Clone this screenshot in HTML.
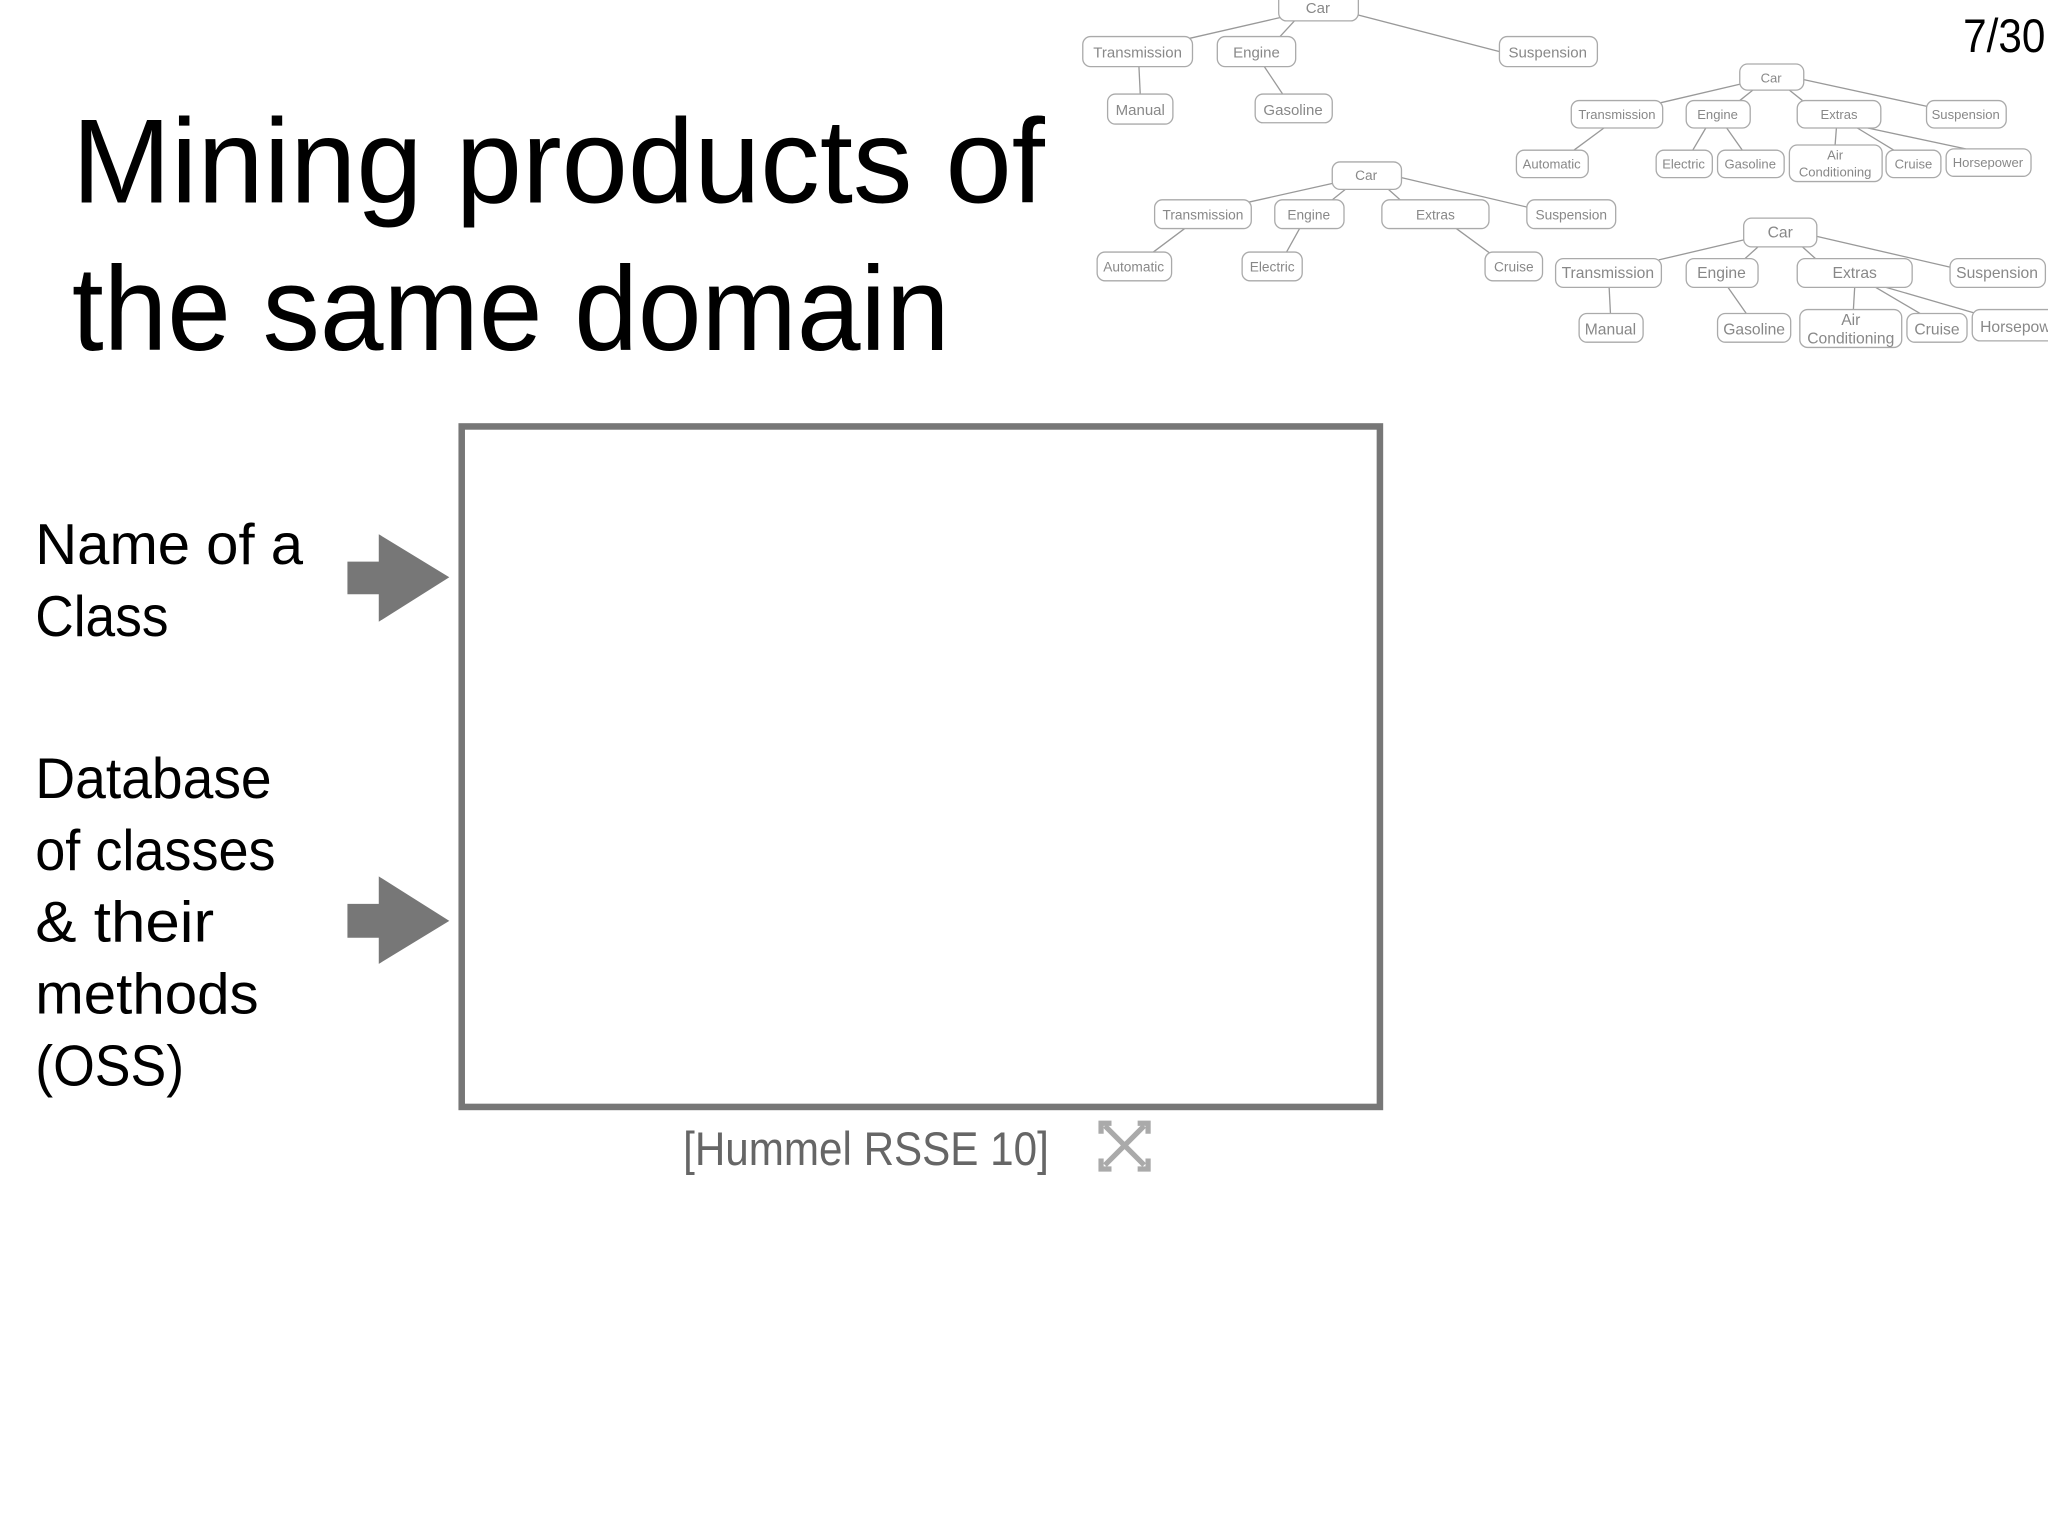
<!DOCTYPE html>
<html><head><meta charset="utf-8"><style>
html,body{margin:0;padding:0;background:#fff;width:2048px;height:1536px;overflow:hidden}
svg{display:block}
.t{font-family:"Liberation Sans",sans-serif;font-size:11.5px;fill:#888;text-anchor:middle}
.n{fill:#fff;stroke:#aaa;stroke-width:1}
.e{stroke:#999;stroke-width:1}
.b{font-family:"Liberation Sans",sans-serif;fill:#000}
</style></head><body>
<svg width="2048" height="1536" viewBox="0 0 1568 1176" xmlns="http://www.w3.org/2000/svg">
<rect width="1568" height="1176" fill="#fff"/>
<!-- Tree 1 -->
<g>
<line class="e" x1="982" y1="13" x2="908" y2="30"/>
<line class="e" x1="992" y1="15" x2="980" y2="28"/>
<line class="e" x1="1038" y1="11" x2="1150" y2="40"/>
<line class="e" x1="872" y1="51" x2="873" y2="72"/>
<line class="e" x1="968" y1="51" x2="982" y2="72"/>
<rect class="n" x="979" y="-6" width="61" height="22" rx="6"/><text class="t" x="1009" y="10">Car</text>
<rect class="n" x="829" y="28" width="84" height="23" rx="6"/><text class="t" x="871" y="44">Transmission</text>
<rect class="n" x="932" y="28" width="60" height="23" rx="6"/><text class="t" x="962" y="44">Engine</text>
<rect class="n" x="1148" y="28" width="75" height="23" rx="6"/><text class="t" x="1185" y="44">Suspension</text>
<rect class="n" x="848" y="72" width="50" height="23" rx="6"/><text class="t" x="873" y="88">Manual</text>
<rect class="n" x="961" y="72" width="59" height="22" rx="6"/><text class="t" x="990" y="88">Gasoline</text>
</g>
<!-- Tree 2 -->
<g style="font-size:10px">
<line class="e" x1="1334" y1="64" x2="1270" y2="79"/>
<line class="e" x1="1342" y1="69" x2="1332" y2="77"/>
<line class="e" x1="1370" y1="69" x2="1380" y2="77"/>
<line class="e" x1="1381" y1="61" x2="1478" y2="82"/>
<line class="e" x1="1228" y1="98" x2="1205" y2="115"/>
<line class="e" x1="1306" y1="98" x2="1296" y2="115"/>
<line class="e" x1="1322" y1="98" x2="1334" y2="115"/>
<line class="e" x1="1406" y1="98" x2="1405" y2="111"/>
<line class="e" x1="1422" y1="98" x2="1450" y2="115"/>
<line class="e" x1="1430" y1="98" x2="1505" y2="114"/>
<rect class="n" x="1332" y="49" width="49" height="20" rx="6"/><text class="t" style="font-size:10px" x="1356" y="63">Car</text>
<rect class="n" x="1203" y="77" width="70" height="21" rx="6"/><text class="t" style="font-size:10px" x="1238" y="91">Transmission</text>
<rect class="n" x="1291" y="77" width="49" height="21" rx="6"/><text class="t" style="font-size:10px" x="1315" y="91">Engine</text>
<rect class="n" x="1376" y="77" width="64" height="21" rx="6"/><text class="t" style="font-size:10px" x="1408" y="91">Extras</text>
<rect class="n" x="1475" y="77" width="61" height="21" rx="6"/><text class="t" style="font-size:10px" x="1505" y="91">Suspension</text>
<rect class="n" x="1161" y="115" width="55" height="21" rx="6"/><text class="t" style="font-size:10px" x="1188" y="129">Automatic</text>
<rect class="n" x="1268" y="115" width="43" height="21" rx="6"/><text class="t" style="font-size:10px" x="1289" y="129">Electric</text>
<rect class="n" x="1315" y="115" width="51" height="21" rx="6"/><text class="t" style="font-size:10px" x="1340" y="129">Gasoline</text>
<rect class="n" x="1370" y="111" width="71" height="28" rx="6"/><text class="t" style="font-size:10px" x="1405" y="122">Air</text><text class="t" style="font-size:10px" x="1405" y="135">Conditioning</text>
<rect class="n" x="1444" y="115" width="42" height="21" rx="6"/><text class="t" style="font-size:10px" x="1465" y="129">Cruise</text>
<rect class="n" x="1490" y="114" width="65" height="21" rx="6"/><text class="t" style="font-size:10px" x="1522" y="128">Horsepower</text>
</g>
<!-- Tree 3 -->
<g>
<line class="e" x1="1022" y1="140" x2="955" y2="155"/>
<line class="e" x1="1030" y1="145" x2="1020" y2="153"/>
<line class="e" x1="1063" y1="145" x2="1072" y2="153"/>
<line class="e" x1="1073" y1="136" x2="1171" y2="159"/>
<line class="e" x1="907" y1="175" x2="883" y2="193"/>
<line class="e" x1="995" y1="175" x2="985" y2="193"/>
<line class="e" x1="1115" y1="175" x2="1145" y2="197"/>
<rect class="n" x="1020" y="124" width="53" height="21" rx="6"/><text class="t" style="font-size:10.5px" x="1046" y="138">Car</text>
<rect class="n" x="884" y="153" width="74" height="22" rx="6"/><text class="t" style="font-size:10.5px" x="921" y="168">Transmission</text>
<rect class="n" x="976" y="153" width="53" height="22" rx="6"/><text class="t" style="font-size:10.5px" x="1002" y="168">Engine</text>
<rect class="n" x="1058" y="153" width="82" height="22" rx="6"/><text class="t" style="font-size:10.5px" x="1099" y="168">Extras</text>
<rect class="n" x="1169" y="153" width="68" height="22" rx="6"/><text class="t" style="font-size:10.5px" x="1203" y="168">Suspension</text>
<rect class="n" x="840" y="193" width="57" height="22" rx="6"/><text class="t" style="font-size:10.5px" x="868" y="208">Automatic</text>
<rect class="n" x="951" y="193" width="46" height="22" rx="6"/><text class="t" style="font-size:10.5px" x="974" y="208">Electric</text>
<rect class="n" x="1137" y="193" width="44" height="22" rx="6"/><text class="t" style="font-size:10.5px" x="1159" y="208">Cruise</text>
</g>
<!-- Tree 4 -->
<g>
<line class="e" x1="1338" y1="183" x2="1270" y2="199"/>
<line class="e" x1="1346" y1="189" x2="1336" y2="198"/>
<line class="e" x1="1380" y1="189" x2="1390" y2="198"/>
<line class="e" x1="1391" y1="181" x2="1495" y2="205"/>
<line class="e" x1="1232" y1="220" x2="1233" y2="240"/>
<line class="e" x1="1323" y1="220" x2="1337" y2="240"/>
<line class="e" x1="1420" y1="220" x2="1419" y2="237"/>
<line class="e" x1="1436" y1="220" x2="1470" y2="240"/>
<line class="e" x1="1444" y1="220" x2="1513" y2="240"/>
<rect class="n" x="1335" y="167" width="56" height="22" rx="6"/><text class="t" style="font-size:12px" x="1363" y="182">Car</text>
<rect class="n" x="1191" y="198" width="81" height="22" rx="6"/><text class="t" style="font-size:12px" x="1231" y="213">Transmission</text>
<rect class="n" x="1291" y="198" width="55" height="22" rx="6"/><text class="t" style="font-size:12px" x="1318" y="213">Engine</text>
<rect class="n" x="1376" y="198" width="88" height="22" rx="6"/><text class="t" style="font-size:12px" x="1420" y="213">Extras</text>
<rect class="n" x="1493" y="198" width="73" height="22" rx="6"/><text class="t" style="font-size:12px" x="1529" y="213">Suspension</text>
<rect class="n" x="1209" y="240" width="49" height="22" rx="6"/><text class="t" style="font-size:12px" x="1233" y="256">Manual</text>
<rect class="n" x="1315" y="240" width="56" height="22" rx="6"/><text class="t" style="font-size:12px" x="1343" y="256">Gasoline</text>
<rect class="n" x="1378" y="237" width="78" height="29" rx="6"/><text class="t" style="font-size:12px" x="1417" y="249">Air</text><text class="t" style="font-size:12px" x="1417" y="263">Conditioning</text>
<rect class="n" x="1460" y="240" width="46" height="22" rx="6"/><text class="t" style="font-size:12px" x="1483" y="256">Cruise</text>
<rect class="n" x="1510" y="237" width="64" height="24" rx="6"/><text class="t" style="font-size:12px;text-anchor:start" x="1516" y="254">Horsepower</text>
</g>
<!-- Title -->
<text class="b" x="55" y="155" font-size="92" textLength="745" lengthAdjust="spacingAndGlyphs">Mining products of</text>
<text class="b" x="55" y="268" font-size="92" textLength="672" lengthAdjust="spacingAndGlyphs">the same domain</text>
<text class="b" x="1503" y="40" font-size="36" textLength="63" lengthAdjust="spacingAndGlyphs">7/30</text>
<!-- Box -->
<rect x="353.5" y="326.5" width="703" height="521" fill="none" stroke="#777" stroke-width="5"/>
<!-- Left text -->
<g font-size="44">
<text class="b" x="27" y="432" textLength="205" lengthAdjust="spacingAndGlyphs">Name of a</text>
<text class="b" x="27" y="487" textLength="102" lengthAdjust="spacingAndGlyphs">Class</text>
<text class="b" x="27" y="611" textLength="181" lengthAdjust="spacingAndGlyphs">Database</text>
<text class="b" x="27" y="666" textLength="184" lengthAdjust="spacingAndGlyphs">of classes</text>
<text class="b" x="27" y="721" textLength="137" lengthAdjust="spacingAndGlyphs">&amp; their</text>
<text class="b" x="27" y="776" textLength="171" lengthAdjust="spacingAndGlyphs">methods</text>
<text class="b" x="27" y="831" textLength="114" lengthAdjust="spacingAndGlyphs">(OSS)</text>
</g>
<!-- Arrows -->
<polygon points="266,430 290,430 290,409 344,442 290,476 290,455 266,455" fill="#777"/>
<polygon points="266,692 290,692 290,671 344,705 290,738 290,718 266,718" fill="#777"/>
<!-- Citation -->
<text x="523" y="892" font-family="Liberation Sans,sans-serif" font-size="36" fill="#666" textLength="280" lengthAdjust="spacingAndGlyphs">[Hummel RSSE 10]</text>
<g stroke="#aaa" stroke-width="4" fill="none">
<line x1="846" y1="862" x2="876" y2="892"/><line x1="876" y1="862" x2="846" y2="892"/>
<polyline points="843,868 843,860 851,860"/><polyline points="871,860 879,860 879,868"/>
<polyline points="843,887 843,895 851,895"/><polyline points="871,895 879,895 879,887"/>
</g>
</svg>
</body></html>
